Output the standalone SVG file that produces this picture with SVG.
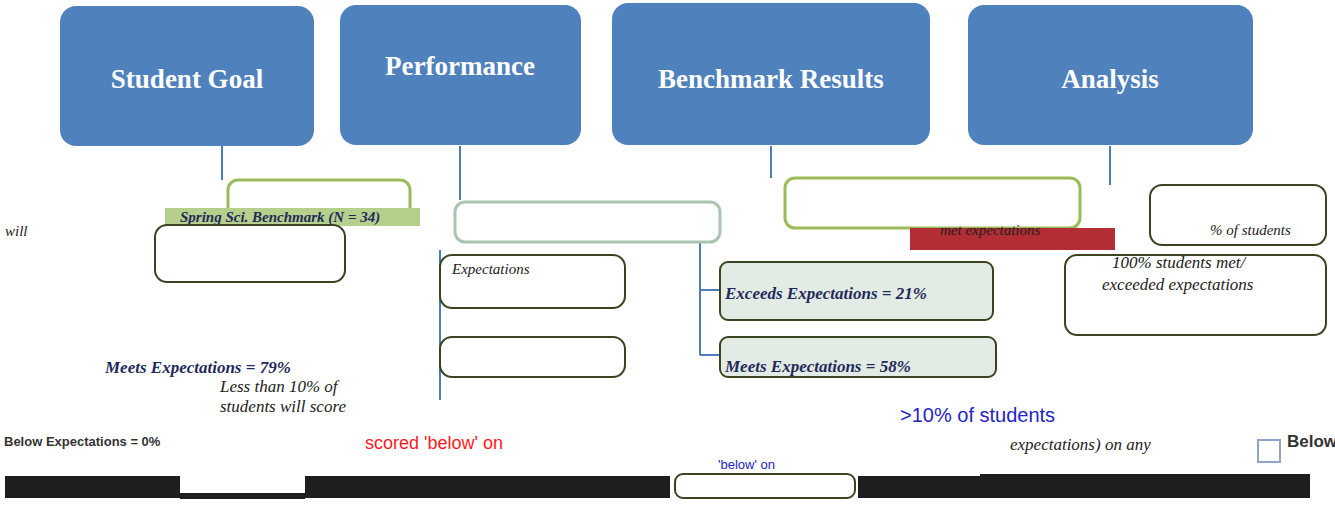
<svg xmlns="http://www.w3.org/2000/svg" width="1335" height="514" viewBox="0 0 1335 514">
<style>
.hdr{fill:#4F81BD;}
.ht{font-family:"Liberation Serif",serif;font-weight:bold;font-size:27px;fill:#FFFFFF;text-anchor:middle;}
.gb{fill:#FFFFFF;stroke:#9BBB59;stroke-width:3;}
.wb{fill:#FFFFFF;stroke:#3A4420;stroke-width:2;}
.lg{fill:#E3EBE5;stroke:#3A4420;stroke-width:2;}
.it{font-family:"Liberation Serif",serif;font-style:italic;font-weight:bold;font-size:17px;fill:#1F2A5A;}
.it2{font-family:"Liberation Serif",serif;font-style:italic;font-size:17px;fill:#222222;}
.red{font-family:"Liberation Sans",sans-serif;font-size:18px;fill:#FF1A1A;}
.blue{font-family:"Liberation Sans",sans-serif;font-size:20px;fill:#2424C8;}
.gr{font-family:"Liberation Sans",sans-serif;font-weight:bold;font-size:15px;fill:#333333;}
.blk{fill:#1E1E1E;}
.con{stroke:#4A7EBB;stroke-width:2;fill:none;}
</style>

<g id="header-1"><rect class="hdr" x="60" y="6" width="254" height="140" rx="16"/><text class="ht" x="187" y="88">Student Goal</text></g>
<g id="header-2"><rect class="hdr" x="340" y="5" width="241" height="140" rx="16"/><text class="ht" x="460" y="75">Performance</text></g>
<g id="header-3"><rect class="hdr" x="612" y="3" width="318" height="142" rx="16"/><text class="ht" x="771" y="88">Benchmark Results</text></g>
<g id="header-4"><rect class="hdr" x="968" y="5" width="285" height="140" rx="16"/><text class="ht" x="1110" y="88">Analysis</text></g>

<g id="connectors">
<path class="con" d="M222 146 V180"/>
<path class="con" d="M460 146 V200"/>
<path class="con" d="M771 146 V178"/>
<path class="con" d="M1110 146 V185"/>
<path class="con" d="M700 240 V355 M700 290 H720 M700 355 H720"/>
<path class="con" d="M440 250 V400"/>
</g>

<g id="bench-header"><rect class="gb" x="228" y="180" width="182" height="40" rx="10"/><rect x="165" y="208" width="255" height="18" fill="#B5CF8C"/><text class="it" x="180" y="222" style="font-size:15px">Spring Sci. Benchmark (N = 34)</text></g>
<g id="box-top-mid"><rect class="gb" x="785" y="178" width="295" height="50" rx="10"/><rect x="910" y="228" width="205" height="22" fill="#B32D35"/><text class="it2" x="940" y="235" style="font-size:15px">met expectations</text></g>
<g id="box-pt"><rect x="455" y="202" width="265" height="40" rx="10" fill="#FFFFFF" stroke="#A9C4B0" stroke-width="3"/></g>
<g id="box-goal"><rect class="wb" x="155" y="225" width="190" height="57" rx="12"/><text class="it2" x="5" y="236" style="font-size:15px">will</text></g>
<g id="box-exp"><rect class="wb" x="440" y="255" width="185" height="53" rx="12"/><text class="it2" x="452" y="274" style="font-size:15px">Expectations</text></g>
<g id="box-exp2"><rect class="wb" x="440" y="337" width="185" height="40" rx="12"/></g>
<g id="exceeds"><rect class="lg" x="720" y="262" width="273" height="58" rx="8"/><text class="it" x="725" y="299">Exceeds Expectations = 21%</text></g>
<g id="meets"><rect class="lg" x="720" y="337" width="276" height="40" rx="8"/><text class="it" x="725" y="372">Meets Expectations = 58%</text></g>
<g id="analysis-top"><rect class="wb" x="1150" y="185" width="176" height="60" rx="12"/><text class="it2" x="1210" y="235" style="font-size:15px">% of students</text></g>
<g id="analysis-1"><rect class="wb" x="1065" y="255" width="261" height="80" rx="12"/><text class="it2" x="1112" y="268">100% students met/</text><text class="it2" x="1102" y="290">exceeded expectations</text></g>
<g id="col1-text"><text class="it2" x="105" y="373" style="font-weight:bold;fill:#1F2A5A">Meets Expectations = 79%</text><text class="it2" x="220" y="392">Less than 10% of</text><text class="it2" x="220" y="412">students will score</text></g>
<g id="below"><text class="gr" x="4" y="446" style="font-size:13px">Below Expectations = 0%</text></g>
<g id="red-text"><text class="red" x="365" y="449">scored 'below' on</text></g>
<g id="analysis-2"><text class="blue" x="900" y="422">&gt;10% of students</text><text class="it2" x="1010" y="450">expectations) on any</text></g>
<g id="below-key"><rect x="1258" y="440" width="22" height="22" fill="none" stroke="#8EA4C8" stroke-width="2"/><text class="gr" x="1287" y="447" style="font-size:17px">Below</text></g>
<g id="bottom-bars">
<rect class="blk" x="5" y="476" width="175" height="22"/>
<rect class="blk" x="180" y="493" width="125" height="6"/>
<rect class="blk" x="305" y="476" width="365" height="22"/>
<rect class="blk" x="858" y="476" width="122" height="22"/>
<rect class="blk" x="980" y="474" width="330" height="24"/>
<rect x="675" y="474" width="180" height="24" rx="8" fill="#FFFFFF" stroke="#3A4420" stroke-width="2"/>
<text class="blue" x="718" y="469" style="font-size:13px">'below' on</text>
</g>
</svg>
